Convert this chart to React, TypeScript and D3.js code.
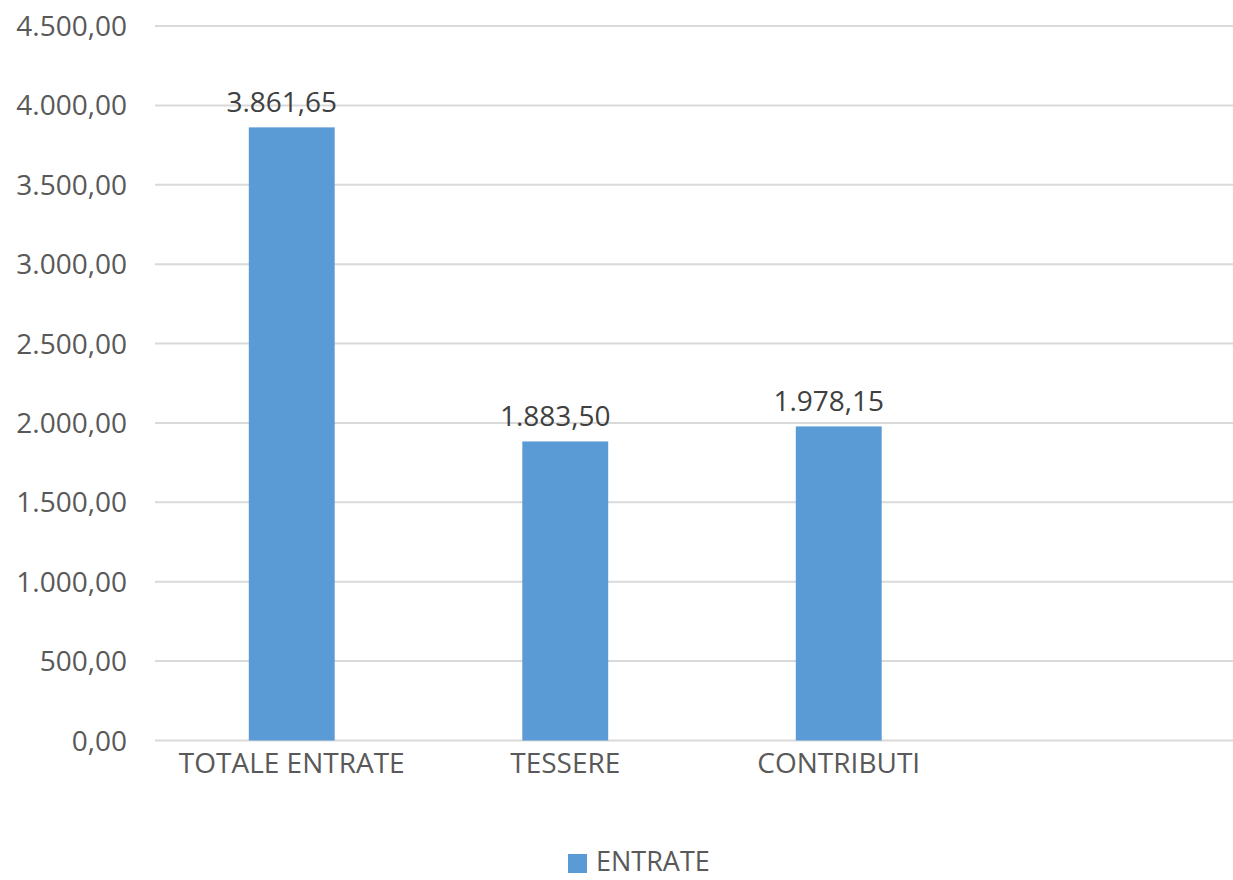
import React, { useEffect, useRef } from "react";
import * as d3 from "d3";

// chart data
const categories = ["TOTALE ENTRATE", "TESSERE", "CONTRIBUTI", ""];
const values: (number | null)[] = [3861.65, 1883.5, 1978.15, null];
const yTicks = [0, 500, 1000, 1500, 2000, 2500, 3000, 3500, 4000, 4500];
const seriesName = "ENTRATE";

const fmt = (v: number) =>
  v
    .toFixed(2)
    .replace(".", ",")
    .replace(/\B(?=(\d{3})+(?!\d))/g, ".");

const App = () => {
  const ref = useRef<SVGSVGElement>(null);

  useEffect(() => {
    document.body.style.margin = "0";
    const width = 1233;
    const height = 880;
    const font = "'Open Sans', sans-serif";
    const textColor = "#595959";
    const barColor = "#5B9BD5";

    const svg = d3.select(ref.current);
    svg.selectAll("*").remove();

    const x = d3
      .scaleBand()
      .domain(categories)
      .range([155, 1249])
      .paddingInner(0.686)
      .paddingOuter(0.343);

    const y = d3.scaleLinear().domain([0, 4500]).range([740.5, 26]);

    // gridlines
    svg
      .append("g")
      .selectAll("line")
      .data(yTicks)
      .enter()
      .append("line")
      .attr("x1", 155)
      .attr("x2", width)
      .attr("y1", (d) => y(d))
      .attr("y2", (d) => y(d))
      .attr("stroke", "#D9D9D9")
      .attr("stroke-width", 2);

    // y tick labels
    svg
      .append("g")
      .selectAll("text")
      .data(yTicks)
      .enter()
      .append("text")
      .attr("x", 127)
      .attr("y", (d) => y(d) + 10)
      .attr("text-anchor", "end")
      .style("font-family", font)
      .style("font-size", "28px")
      .style("fill", textColor)
      .text((d) => fmt(d));

    const barData = categories
      .map((c, i) => ({ cat: c, value: values[i] }))
      .filter((d) => d.value != null) as { cat: string; value: number }[];

    // bars
    svg
      .append("g")
      .selectAll("rect")
      .data(barData)
      .enter()
      .append("rect")
      .attr("x", (d) => x(d.cat)!)
      .attr("width", x.bandwidth())
      .attr("y", (d) => y(d.value))
      .attr("height", (d) => y(0) - y(d.value))
      .attr("fill", barColor);

    // data labels
    svg
      .append("g")
      .selectAll("text")
      .data(barData)
      .enter()
      .append("text")
      .attr("x", (d) => x(d.cat)! + x.bandwidth() / 2 - 10)
      .attr("y", (d) => y(d.value) - 15)
      .attr("text-anchor", "middle")
      .style("font-family", font)
      .style("font-size", "28px")
      .style("fill", "#404040")
      .text((d) => fmt(d.value));

    // category labels
    svg
      .append("g")
      .selectAll("text")
      .data(categories.filter((c) => c !== ""))
      .enter()
      .append("text")
      .attr("x", (d) => x(d)! + x.bandwidth() / 2)
      .attr("y", 773)
      .attr("text-anchor", "middle")
      .style("font-family", font)
      .style("font-size", "28px")
      .style("fill", textColor)
      .text((d) => d);

    // legend
    const legend = svg.append("g");
    legend
      .append("rect")
      .attr("x", 568)
      .attr("y", 854)
      .attr("width", 19)
      .attr("height", 19)
      .attr("fill", barColor);
    legend
      .append("text")
      .attr("x", 596)
      .attr("y", 871)
      .style("font-family", font)
      .style("font-size", "27px")
      .style("fill", textColor)
      .text(seriesName);

    svg.attr("width", width).attr("height", height);
  }, []);

  return <svg ref={ref} width={1233} height={880} style={{ display: "block", background: "#fff" }} />;
};

export default App;
